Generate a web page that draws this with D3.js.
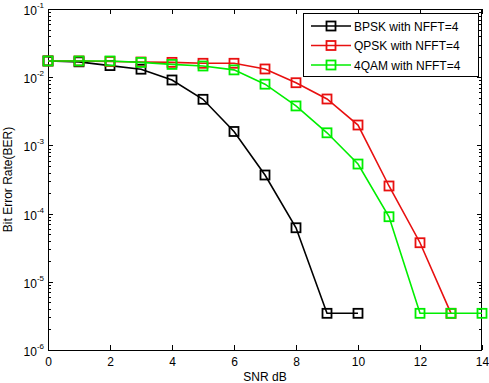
<!DOCTYPE html>
<html>
<head>
<meta charset="utf-8">
<script src="https://cdn.jsdelivr.net/npm/d3@7"></script>
<style>
  body { margin: 0; background: #fff; }
  svg text { font-family: "Liberation Sans", Arial, sans-serif; fill: #000; }
</style>
</head>
<body>
<svg id="chart" width="489" height="383"></svg>
<script>
// data
var snr = [0, 1, 2, 3, 4, 5, 6, 7, 8, 9, 10, 11, 12, 13, 14];
var berBpsk = [0.0173, 0.0168, 0.0148, 0.0131, 0.0091, 0.00474, 0.0016, 3.68e-4, 6.2e-5, 3.45e-6, 3.45e-6];
var berQpsk = [0.0173, 0.0173, 0.0170, 0.0167, 0.0165, 0.0160, 0.0160, 0.0132, 0.0083, 0.00479, 0.00199, 2.54e-4, 3.74e-5, 3.45e-6];
var ber4qam = [0.0173, 0.0173, 0.0173, 0.0165, 0.0154, 0.0146, 0.0128, 0.0079, 0.00379, 0.00153, 5.33e-4, 9.0e-5, 3.45e-6, 3.45e-6, 3.45e-6];
var seriesNames = ["BPSK with NFFT=4", "QPSK with NFFT=4", "4QAM with NFFT=4"];
var seriesColors = ["#000000", "#e81010", "#00ee00"];
var xTicks = [0, 2, 4, 6, 8, 10, 12, 14];
var yExponents = [-1, -2, -3, -4, -5, -6];

var svg = d3.select("#chart");
var plotL = 48, plotR = 482, plotT = 9, plotB = 350;

var x = d3.scaleLinear().domain([0, 14]).range([plotL, plotR]);
var y = d3.scaleLog().domain([1e-6, 1e-1]).range([plotB, plotT]);

// minor log ticks, left and right, pointing inward
var minors = [];
for (var e = -6; e < -1; e++) {
  for (var m = 2; m <= 9; m++) minors.push(m * Math.pow(10, e));
}
var g = svg.append("g");
minors.forEach(function(v) {
  var yy = Math.round(y(v)) + 0.5;
  g.append("line").attr("x1", plotL).attr("x2", plotL + 3).attr("y1", yy).attr("y2", yy).attr("stroke", "#000");
  g.append("line").attr("x1", plotR).attr("x2", plotR - 3).attr("y1", yy).attr("y2", yy).attr("stroke", "#000");
});
yExponents.forEach(function(ex) {
  var yy = Math.round(y(Math.pow(10, ex))) + 0.5;
  g.append("line").attr("x1", plotL).attr("x2", plotL + 5).attr("y1", yy).attr("y2", yy).attr("stroke", "#000");
  g.append("line").attr("x1", plotR).attr("x2", plotR - 5).attr("y1", yy).attr("y2", yy).attr("stroke", "#000");
  var t = g.append("text").attr("x", 44).attr("y", yy + 5).attr("text-anchor", "end").style("font-size", "12px");
  t.append("tspan").text("10");
  t.append("tspan").attr("dy", -7).style("font-size", "8px").text(ex);
});
xTicks.forEach(function(v) {
  var xx = Math.round(x(v)) + 0.5;
  g.append("line").attr("x1", xx).attr("x2", xx).attr("y1", plotB).attr("y2", plotB - 5).attr("stroke", "#000");
  g.append("line").attr("x1", xx).attr("x2", xx).attr("y1", plotT).attr("y2", plotT + 5).attr("stroke", "#000");
  g.append("text").attr("x", xx).attr("y", 366).attr("text-anchor", "middle").style("font-size", "12px").text(v);
});

// frame
svg.append("rect").attr("x", plotL + 0.5).attr("y", plotT + 0.5)
  .attr("width", plotR - plotL - 1).attr("height", plotB - plotT)
  .attr("fill", "none").attr("stroke", "#000");

// axis titles
svg.append("text").attr("x", (plotL + plotR) / 2).attr("y", 381).attr("text-anchor", "middle")
  .style("font-size", "12px").text("SNR dB");
svg.append("text").attr("transform", "translate(12," + ((plotT + plotB) / 2) + ") rotate(-90)")
  .attr("text-anchor", "middle").style("font-size", "12px").text("Bit Error Rate(BER)");

// series
var line = d3.line().x(function(d, i) { return x(snr[i]); }).y(function(d) { return y(d); });
[berBpsk, berQpsk, ber4qam].forEach(function(vals, k) {
  var s = svg.append("g");
  s.append("path").datum(vals).attr("d", line).attr("fill", "none")
    .attr("stroke", seriesColors[k]).attr("stroke-width", 1.6);
  s.selectAll("rect").data(vals).enter().append("rect")
    .attr("x", function(d, i) { return x(snr[i]) - 4.5; })
    .attr("y", function(d) { return y(d) - 4.5; })
    .attr("width", 9).attr("height", 9)
    .attr("fill", "none").attr("stroke", seriesColors[k]).attr("stroke-width", 1.8);
});

// legend
var lg = svg.append("g");
lg.append("rect").attr("x", 303.5).attr("y", 13.5).attr("width", 175).attr("height", 63)
  .attr("fill", "#fff").attr("stroke", "#000");
seriesNames.forEach(function(name, k) {
  var ly = 26 + k * 19.5;
  lg.append("line").attr("x1", 311).attr("x2", 351).attr("y1", ly).attr("y2", ly)
    .attr("stroke", seriesColors[k]).attr("stroke-width", 1.6);
  lg.append("rect").attr("x", 331 - 4.5).attr("y", ly - 4.5).attr("width", 9).attr("height", 9)
    .attr("fill", "none").attr("stroke", seriesColors[k]).attr("stroke-width", 1.8);
  lg.append("text").attr("x", 354).attr("y", ly + 4.5).style("font-size", "12px").text(name);
});
</script>
</body>
</html>
